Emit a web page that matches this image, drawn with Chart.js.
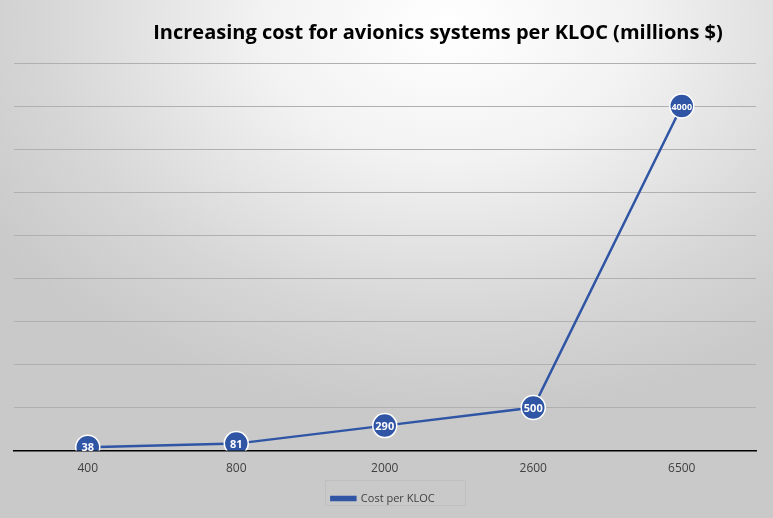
<!DOCTYPE html>
<html><head><meta charset="utf-8">
<script src="https://cdn.jsdelivr.net/npm/chart.js"></script>
<style>
html,body{margin:0;padding:0;}
#wrap{width:773px;height:518px;background:radial-gradient(ellipse 70% 75% at 58% 5%, #ffffff 0%, #f2f2f2 35%, #d6d6d6 75%, #c9c9c9 100%);}
</style></head><body>
<div id="wrap"><canvas id="c" width="773" height="518"></canvas></div>
<script>
const categories = ["400","800","2000","2600","6500"];
const costPerKloc = [38,81,290,500,4000];
const titleText = "Increasing cost for avionics systems per KLOC (millions $)";
const seriesName = "Cost per KLOC";

const extras = {
  id:'extras',
  afterDraw(chart){
    const ctx = chart.ctx;
    ctx.save();
    ctx.font = 'bold 20px "Open Sans", sans-serif';
    ctx.fillStyle = '#000';
    ctx.textAlign = 'center'; ctx.textBaseline = 'middle';
    ctx.fillText(titleText, 438, 33);
    const meta = chart.getDatasetMeta(0);
    meta.data.forEach((p,i)=>{
      ctx.font = 'bold ' + (costPerKloc[i] >= 1000 ? 9 : 11) + 'px "Open Sans", sans-serif';
      ctx.fillStyle = '#fff';
      ctx.fillText(String(costPerKloc[i]), p.x, p.y+1);
    });
    ctx.strokeStyle = '#bfbfbf'; ctx.lineWidth = 1;
    ctx.strokeRect(325.5, 480.5, 140, 25);
    ctx.restore();
  }
};

new Chart(document.getElementById('c'), {
  type:'line',
  data:{labels:categories, datasets:[{
    label:seriesName, data:costPerKloc,
    borderColor:'#2f55a4', backgroundColor:'#2f55a4',
    borderWidth:2.5, pointRadius:12, pointHoverRadius:12, pointBorderWidth:1.5,
    pointBackgroundColor:'#2f55a4', pointBorderColor:'#ffffff', tension:0
  }]},
  options:{
    responsive:false, animation:false, maintainAspectRatio:false,
    layout:{padding:{left:10,right:17,top:63,bottom:4}},
    plugins:{
      legend:{position:'bottom', labels:{boxWidth:24, boxHeight:3, color:'#404040', font:{size:11, family:'"Open Sans", sans-serif'}, padding:14}},
      tooltip:{enabled:false}
    },
    scales:{
      x:{offset:true, grid:{display:false}, border:{color:'#000', width:1.5},
         ticks:{color:'#404040', font:{size:12, family:'"Open Sans", sans-serif'}}},
      y:{min:0, max:4500, ticks:{display:false, stepSize:500},
         grid:{color:'#b0b0b0', drawTicks:false}, border:{display:false}}
    }
  },
  plugins:[extras]
});
</script>
</body></html>
